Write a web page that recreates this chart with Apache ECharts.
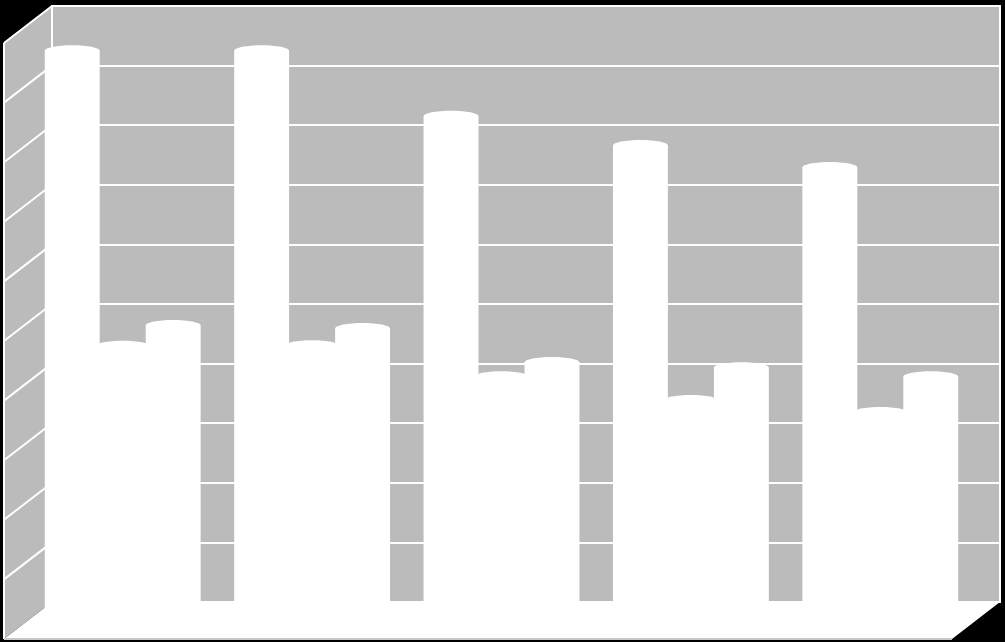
<!DOCTYPE html>
<html>
<head>
<meta charset="utf-8">
<style>html,body{margin:0;padding:0;background:#000}#c{width:1005px;height:642px}</style>
<script src="https://cdn.jsdelivr.net/npm/echarts@6/dist/echarts.min.js"></script>
</head>
<body>
<div id="c"></div>
<script>
var categories = ['1', '2', '3', '4', '5'];
var seriesA = [95.6, 95.6, 84.6, 79.7, 76.0];
var seriesB = [46.0, 46.1, 40.9, 36.9, 34.9];
var seriesC = [49.5, 49.0, 43.3, 42.4, 40.9];
var ticks = [10, 20, 30, 40, 50, 60, 70, 80, 90];

var GRAY = '#bbbbbb', WHITE = '#ffffff';
var DEPTH_X = -48, DEPTH_Y = 37;
var BAR_RATIO = 0.29, STEP_RATIO = 0.2665, CAP_RY = 5.5;

function cylinder(offset) {
  return function (params, api) {
    var band = api.size([1, 0])[0];
    var w = band * BAR_RATIO;
    var top = api.coord([api.value(0), api.value(1)]);
    var base = api.coord([api.value(0), 0]);
    var cx = top[0] + offset * band * STEP_RATIO;
    return {
      type: 'group',
      children: [
        { type: 'rect', shape: { x: cx - w / 2, y: top[1], width: w, height: base[1] - top[1] },
          style: { fill: WHITE } },
        { type: 'ellipse', shape: { cx: cx, cy: top[1], rx: w / 2, ry: CAP_RY },
          style: { fill: WHITE } }
      ]
    };
  };
}

function shell(params, api) {
  var a = api.coord([0, 0]), b = api.coord([0, 100]), c = api.coord([1, 0]);
  var lx = a[0], rx = c[0], by = a[1], ty = b[1];
  var line = { stroke: WHITE, lineWidth: 2 };
  var kids = [
    { type: 'polygon', shape: { points: [[lx, ty], [lx, by], [lx + DEPTH_X, by + DEPTH_Y], [lx + DEPTH_X, ty + DEPTH_Y]] },
      style: { fill: GRAY } },
    { type: 'polygon', shape: { points: [[lx, by], [rx, by], [rx + DEPTH_X, by + DEPTH_Y], [lx + DEPTH_X, by + DEPTH_Y]] },
      style: { fill: WHITE } },
    { type: 'line', shape: { x1: lx, y1: ty, x2: lx, y2: by }, style: line },
    { type: 'line', shape: { x1: lx, y1: ty, x2: lx + DEPTH_X, y2: ty + DEPTH_Y }, style: line },
    { type: 'line', shape: { x1: lx + DEPTH_X, y1: ty + DEPTH_Y, x2: lx + DEPTH_X, y2: by + DEPTH_Y }, style: line },
    { type: 'line', shape: { x1: rx, y1: ty, x2: rx, y2: by }, style: line },
    { type: 'line', shape: { x1: lx + DEPTH_X, y1: by + DEPTH_Y, x2: rx + DEPTH_X, y2: by + DEPTH_Y },
      style: { stroke: '#c8c8c8', lineWidth: 2 } }
  ];
  ticks.forEach(function (t) {
    var p = api.coord([0, t]);
    kids.push({ type: 'line', shape: { x1: p[0], y1: p[1], x2: p[0] + DEPTH_X, y2: p[1] + DEPTH_Y }, style: line });
  });
  return { type: 'group', children: kids };
}

var chart = echarts.init(document.getElementById('c'), null, { renderer: 'canvas' });
chart.setOption({
  backgroundColor: '#000000',
  animation: false,
  grid: [
    { left: 52, top: 6, width: 948, height: 596, show: true, backgroundColor: GRAY, borderColor: WHITE, borderWidth: 2 },
    { left: 28, top: 24.5, width: 947, height: 596 }
  ],
  xAxis: [
    { gridIndex: 0, type: 'value', min: 0, max: 1, show: false },
    { gridIndex: 1, type: 'category', data: categories, show: false }
  ],
  yAxis: [
    { gridIndex: 0, type: 'value', min: 0, max: 100, interval: 10,
      axisLine: { show: false }, axisTick: { show: false }, axisLabel: { show: false },
      splitLine: { show: true, lineStyle: { color: WHITE, width: 2 } } },
    { gridIndex: 1, type: 'value', min: 0, max: 100, show: false }
  ],
  series: [
    { name: 'shell', type: 'custom', xAxisIndex: 0, yAxisIndex: 0, z: 2, silent: true,
      data: [[0, 0]], renderItem: shell, clip: false },
    { name: 'B', type: 'custom', xAxisIndex: 1, yAxisIndex: 1, z: 3, clip: false,
      data: seriesB.map(function (v, i) { return [i, v]; }), renderItem: cylinder(0) },
    { name: 'A', type: 'custom', xAxisIndex: 1, yAxisIndex: 1, z: 4, clip: false,
      data: seriesA.map(function (v, i) { return [i, v]; }), renderItem: cylinder(-1) },
    { name: 'C', type: 'custom', xAxisIndex: 1, yAxisIndex: 1, z: 4, clip: false,
      data: seriesC.map(function (v, i) { return [i, v]; }), renderItem: cylinder(1) }
  ]
});
</script>
</body>
</html>
